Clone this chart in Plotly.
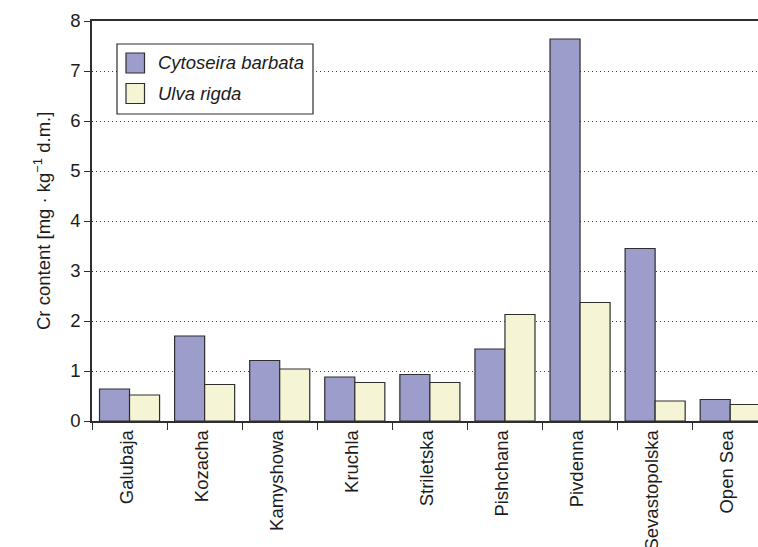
import plotly.graph_objects as go

sites = ["Galubaja", "Kozacha", "Kamyshowa", "Kruchla", "Striletska",
         "Pishchana", "Pivdenna", "Sevastopolska", "Open Sea"]
cytoseira = [0.64, 1.70, 1.21, 0.88, 0.93, 1.44, 7.64, 3.45, 0.43]
ulva = [0.52, 0.73, 1.04, 0.77, 0.77, 2.13, 2.37, 0.40, 0.33]
series_names = ["Cytoseira barbata", "Ulva rigda"]
y_ticks = [0, 1, 2, 3, 4, 5, 6, 7, 8]

PURPLE = "#9d9dcb"
CREAM = "#f5f5d6"
EDGE = "#2e2e2e"
TXT = "#1c1c1c"
FONT = "Liberation Sans, Arial, sans-serif"

fig = go.Figure()
fig.add_trace(go.Bar(x=sites, y=cytoseira, name=series_names[0],
                     marker=dict(color=PURPLE, line=dict(color=EDGE, width=1.2)),
                     showlegend=False))
fig.add_trace(go.Bar(x=sites, y=ulva, name=series_names[1],
                     marker=dict(color=CREAM, line=dict(color=EDGE, width=1.2)),
                     showlegend=False))

W, H = 758, 547
L, R, T, B = 92, 0, 21, 126
pw, ph = W - L - R, H - T - B

def px(xp):
    return (xp - L) / pw

def py(yp):
    return (H - B - yp) / ph

# legend drawn as box + swatches + text
shapes = [dict(type="rect", xref="paper", yref="paper",
               x0=px(117), x1=px(313), y0=py(114), y1=py(44),
               line=dict(color=EDGE, width=1.2), fillcolor="white", layer="above")]
annotations = []
for i, (nm, col) in enumerate(zip(series_names, [PURPLE, CREAM])):
    top = 53 + i * 30.5
    shapes.append(dict(type="rect", xref="paper", yref="paper",
                       x0=px(126), x1=px(144.5), y0=py(top + 20), y1=py(top),
                       line=dict(color=EDGE, width=1.2), fillcolor=col, layer="above"))
    annotations.append(dict(xref="paper", yref="paper", x=px(156), y=py(top + 10),
                            xanchor="left", yanchor="middle", showarrow=False,
                            text="<i>" + nm + "</i>",
                            font=dict(family=FONT, size=18.5, color=TXT)))

annotations.append(dict(xref="paper", yref="paper", x=0, y=0.5, xshift=-50,
                        xanchor="center", yanchor="middle", textangle=-90,
                        showarrow=False,
                        text="Cr content [mg · kg<sup>−1</sup> d.m.]",
                        font=dict(family=FONT, size=18.5, color=TXT)))

fig.update_layout(
    width=W, height=H,
    margin=dict(l=L, r=R, t=T, b=B, pad=0, autoexpand=False),
    paper_bgcolor="white", plot_bgcolor="white",
    barmode="group", bargap=0.2, bargroupgap=0,
    font=dict(family=FONT, size=18.5, color=TXT),
    shapes=shapes, annotations=annotations,
    xaxis=dict(range=[-0.5, 8.37], showline=True, linecolor=EDGE, linewidth=1.6,
               mirror=True, ticks="outside", tickson="boundaries", ticklen=7,
               tickcolor=EDGE, tickwidth=1.2, tickangle=-90, showgrid=False,
               ticklabelshift=-3, automargin=False,
               tickfont=dict(family=FONT, size=18.5, color=TXT)),
    yaxis=dict(range=[0, 8], tickvals=y_ticks, showline=True, linecolor=EDGE,
               linewidth=1.6, ticks="outside", ticklen=6, tickcolor=EDGE,
               tickwidth=1.2, automargin=False,
               showgrid=True, gridcolor="#3a3a3a", gridwidth=1, griddash="1px,3px",
               zeroline=False,
               tickfont=dict(family=FONT, size=18.5, color=TXT)),
)

fig.write_html("out.html")
